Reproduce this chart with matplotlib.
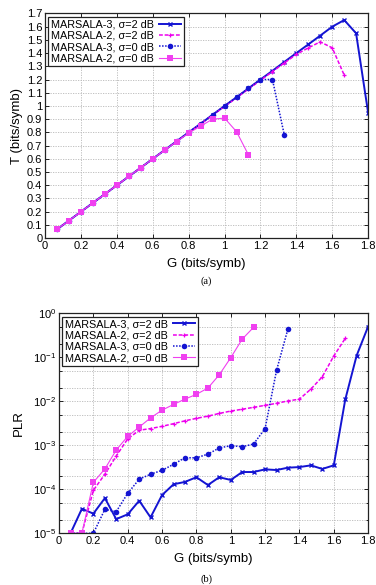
import matplotlib
matplotlib.use("Agg")
import matplotlib.pyplot as plt
from matplotlib.ticker import MultipleLocator, LogLocator, FuncFormatter, NullFormatter

# ---------------- data ----------------
G = [0.067, 0.133, 0.2, 0.267, 0.333, 0.4, 0.467, 0.533, 0.6, 0.667, 0.733, 0.8,
     0.867, 0.933, 1.0, 1.067, 1.133, 1.2, 1.267, 1.333, 1.4, 1.467, 1.533, 1.6,
     1.667, 1.733, 1.8, 1.867]

# (a) throughput
T_m3_s2 = [0.067, 0.133, 0.2, 0.267, 0.333, 0.4, 0.467, 0.533, 0.6, 0.667, 0.733, 0.8,
           0.866, 0.933, 1.0, 1.066, 1.133, 1.2, 1.266, 1.333, 1.4, 1.466, 1.532, 1.6,
           1.65, 1.55, 0.95]
T_m2_s2 = [0.067, 0.133, 0.2, 0.267, 0.333, 0.4, 0.467, 0.533, 0.6, 0.666, 0.732, 0.798,
           0.864, 0.93, 0.996, 1.062, 1.128, 1.194, 1.26, 1.325, 1.39, 1.44, 1.485, 1.44,
           1.233]
T_m3_s0 = [0.067, 0.133, 0.2, 0.267, 0.333, 0.4, 0.467, 0.533, 0.6, 0.667, 0.733, 0.8,
           0.866, 0.933, 1.0, 1.066, 1.133, 1.2, 1.2, 0.78]
T_m2_s0 = [0.067, 0.133, 0.2, 0.267, 0.333, 0.4, 0.467, 0.533, 0.6, 0.666, 0.73, 0.795,
           0.848, 0.90, 0.908, 0.805, 0.63]

# (b) packet loss rate
P_m3_s2 = [1e-5, 3.6e-5, 2.8e-5, 6.3e-5, 2.1e-5, 2.7e-5, 5.5e-5, 2.3e-5, 7.4e-5, 1.3e-4,
           1.47e-4, 1.88e-4, 1.25e-4, 1.88e-4, 1.63e-4, 2.47e-4, 2.47e-4, 2.84e-4, 2.74e-4,
           3.1e-4, 3.2e-4, 3.5e-4, 2.9e-4, 3.5e-4, 1.1e-2, 0.109, 0.5]
P_m2_s2 = [1e-5, 1e-5, 9.5e-5, 2.2e-4, 5.7e-4, 1.4e-3, 2.2e-3, 2.4e-3, 2.7e-3, 3.1e-3,
           3.6e-3, 4.1e-3, 4.6e-3, 5.3e-3, 6.0e-3, 6.6e-3, 7.3e-3, 8.1e-3, 9.0e-3, 1.02e-2,
           1.12e-2, 1.9e-2, 3.6e-2, 0.107, 0.27]
P_m3_s0 = [1e-5, 1e-5, 1e-5, 3.5e-5, 3.1e-5, 8.1e-5, 1.7e-4, 2.2e-4, 2.7e-4, 3.7e-4,
           5.2e-4, 5.2e-4, 6.3e-4, 8.7e-4, 9.8e-4, 9.3e-4, 1.07e-3, 2.4e-3, 5.1e-2, 0.44]
P_m2_s0 = [1e-5, 1e-5, 1.44e-4, 2.9e-4, 7.8e-4, 1.6e-3, 2.6e-3, 4.2e-3, 6.3e-3, 8.5e-3,
           1.12e-2, 1.44e-2, 2.0e-2, 4.0e-2, 9.8e-2, 0.26, 0.48]

labels = ["MARSALA-3, σ=2 dB", "MARSALA-2, σ=2 dB", "MARSALA-3, σ=0 dB", "MARSALA-2, σ=0 dB"]

# ---------------- style ----------------
plt.rcParams['font.family'] = ['Liberation Sans', 'DejaVu Sans']
BLUE = '#1414d2'
MAG = '#ee00ee'
MAG2 = '#f040f0'
styles = [
    dict(color=BLUE, lw=1.4, ls='-', marker='x', ms=3.2, mew=1.0),
    dict(color=MAG, lw=1.1, ls=(0, (2.5, 1.2)), marker='+', ms=3, mew=0.9),
    dict(color=BLUE, lw=1.1, ls=(0, (1, 1)), marker='o', ms=4, mew=0),
    dict(color=MAG2, lw=0.8, ls='-', marker='s', ms=4, mew=0),
]

fig = plt.figure(figsize=(3.76, 5.85), dpi=100)
ax1 = fig.add_axes([0.120, 0.593, 0.859, 0.384])
ax2 = fig.add_axes([0.157, 0.0884, 0.822, 0.376])

def style_axes(ax):
    ax.tick_params(direction='in', which='both', top=True, right=True, labelsize=8,
                   length=3, width=0.6, pad=2)
    ax.tick_params(which='minor', length=1.8)
    for s in ax.spines.values():
        s.set_linewidth(0.9)
        s.set_color('#222222')
    ax.grid(True, which='major', color='#b8b8b8', ls=(0, (1.5, 1.5)), lw=0.6)

fmt = FuncFormatter(lambda v, p: ('%.1f' % v).rstrip('0').rstrip('.') if v != 0 else '0')

leg_kw = dict(loc='upper left', markerfirst=False, fontsize=7.8, frameon=True,
              fancybox=False, edgecolor='#222222', framealpha=1, handlelength=2.0,
              borderpad=0.25, labelspacing=0.12, handletextpad=0.5, borderaxespad=0.3)

# (a)
series_a = [T_m3_s2, T_m2_s2, T_m3_s0, T_m2_s0]
for ys, st, lab in zip(series_a, styles, labels):
    ax1.plot(G[:len(ys)], ys, label=lab, **st)
ax1.set_xlim(0, 1.8)
ax1.set_ylim(0, 1.7)
ax1.xaxis.set_major_locator(MultipleLocator(0.2))
ax1.yaxis.set_major_locator(MultipleLocator(0.1))
ax1.xaxis.set_major_formatter(fmt)
ax1.yaxis.set_major_formatter(fmt)
style_axes(ax1)
ax1.set_xlabel('G (bits/symb)', fontsize=9.5, labelpad=5)
ax1.set_ylabel('T (bits/symb)', fontsize=9.5, labelpad=3)
leg1 = ax1.legend(**leg_kw)
leg1.get_frame().set_linewidth(0.9)
fig.text(0.548, 0.515, '(a)', fontsize=7.5, family='Liberation Serif', ha='center')

# (b)
series_b = [P_m3_s2, P_m2_s2, P_m3_s0, P_m2_s0]
for ys, st, lab in zip(series_b, styles, labels):
    ax2.plot(G[:len(ys)], ys, label=lab, **st)
ax2.set_yscale('log')
ax2.set_xlim(0, 1.8)
ax2.set_ylim(1e-5, 1)
ax2.xaxis.set_major_locator(MultipleLocator(0.2))
ax2.xaxis.set_major_formatter(fmt)
ax2.yaxis.set_major_locator(LogLocator(base=10, numticks=10))
ax2.yaxis.set_minor_locator(LogLocator(base=10, subs=(2, 5), numticks=10))
ax2.yaxis.set_minor_formatter(NullFormatter())
style_axes(ax2)
ax2.grid(True, which='minor', axis='y', color='#b8b8b8', ls=(0, (1.5, 1.5)), lw=0.6)
ax2.set_xlabel('G (bits/symb)', fontsize=9.5, labelpad=5)
ax2.set_ylabel('PLR', fontsize=9.5, labelpad=6)
leg2 = ax2.legend(**leg_kw)
leg2.get_frame().set_linewidth(0.9)
fig.text(0.548, 0.006, '(b)', fontsize=7.5, family='Liberation Serif', ha='center')

fig.savefig('out.png', dpi=100)
